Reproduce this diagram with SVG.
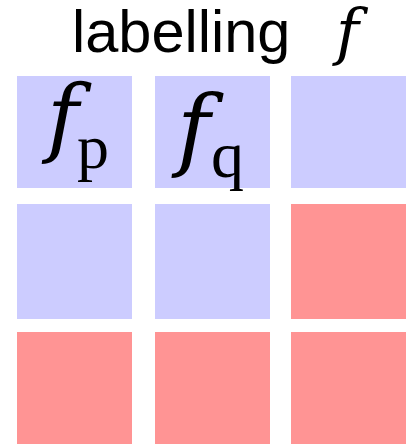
<svg xmlns="http://www.w3.org/2000/svg" width="410" height="444" viewBox="0 0 410 444">
<style>
.b{fill:#ccccff}
.r{fill:#ff9494}
.t{font-family:"Liberation Sans",Arial,sans-serif;fill:#000}
.m{font-family:"DejaVu Serif","Liberation Serif",serif;font-style:italic;fill:#000}
.s{font-family:"Liberation Serif","Times New Roman",serif;fill:#000}
</style>
<rect width="410" height="444" fill="#fff"/>
<g id="title">
<text class="t" x="72" y="52" font-size="59.5">labelling</text>
<text class="m" x="336" y="53" font-size="62">f</text>
</g>
<g id="cell-1-1"><rect class="b" x="17" y="76" width="115" height="112"/>
<text class="m" x="47" y="146" font-size="86">f</text><text class="s" x="77" y="168" font-size="64">p</text></g>
<g id="cell-1-2"><rect class="b" x="155" y="76" width="115" height="112"/>
<text class="m" x="177" y="159" font-size="90">f</text><text class="s" x="211" y="177" font-size="66">q</text></g>
<g id="cell-1-3"><rect class="b" x="291" y="76" width="115" height="112"/></g>
<g id="cell-2-1"><rect class="b" x="17" y="204" width="115" height="115"/></g>
<g id="cell-2-2"><rect class="b" x="155" y="204" width="115" height="115"/></g>
<g id="cell-2-3"><rect class="r" x="291" y="204" width="115" height="115"/></g>
<g id="cell-3-1"><rect class="r" x="17" y="332" width="115" height="112"/></g>
<g id="cell-3-2"><rect class="r" x="155" y="332" width="115" height="112"/></g>
<g id="cell-3-3"><rect class="r" x="291" y="332" width="115" height="112"/></g>
<g id="connectors"/>
</svg>
